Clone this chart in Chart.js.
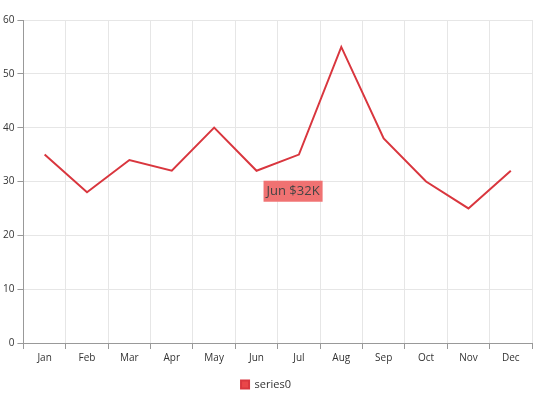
<!DOCTYPE html>
<html>
<head>
<script src="https://cdn.jsdelivr.net/npm/chart.js@4"></script>
<style>body{margin:0;background:#fff}#wrap{width:550px;height:400px}</style>
</head>
<body>
<div id="wrap"><canvas id="chart"></canvas></div>
<script>
var months = ['Jan', 'Feb', 'Mar', 'Apr', 'May', 'Jun', 'Jul', 'Aug', 'Sep', 'Oct', 'Nov', 'Dec'];
var series0 = [35, 28, 34, 32, 40, 32, 35, 55, 38, 30, 25, 32];
var yTicks = [0, 10, 20, 30, 40, 50, 60];
var tipIndex = 5;

// FAKE TOOLTIP BELOW THE JUN POINT
var tipPlugin = {
	id: 'tip',
	afterDatasetsDraw: function(chart) {
		var ctx = chart.ctx;
		var pt = chart.getDatasetMeta(0).data[tipIndex];
		var text = months[tipIndex] + ' $' + series0[tipIndex] + 'K';
		ctx.save();
		ctx.font = '13px "Liberation Sans Narrow", "Open Sans", sans-serif';
		var w = ctx.measureText(text).width + 6;
		var x = pt.x + 7, y = pt.y + 10;
		ctx.fillStyle = '#f07272';
		ctx.fillRect(x, y, w, 21);
		ctx.fillStyle = '#444';
		ctx.textBaseline = 'middle';
		ctx.fillText(text, x + 3, y + 11);
		ctx.restore();
	}
};

new Chart(document.getElementById('chart'), {
	type: 'line',
	data: {
		labels: months,
		datasets: [{
			label: 'series0',
			data: series0,
			borderColor: '#d9363e',
			backgroundColor: '#e94649',
			borderWidth: 2,
			pointRadius: 0,
			tension: 0
		}]
	},
	options: {
		responsive: true,
		maintainAspectRatio: false,
		animation: false,
		layout: { padding: { left: 0, right: 18, top: 20, bottom: 0 } },
		plugins: {
			tooltip: { enabled: false },
			legend: {
				position: 'bottom',
				labels: { boxWidth: 8, boxHeight: 8, color: '#333', font: { family: 'Open Sans', size: 11 }, padding: 12 }
			}
		},
		scales: {
			x: {
				offset: true,
				grid: { offset: true, color: '#e6e6e6', tickLength: 6, tickColor: '#999' },
				border: { color: '#999' },
				ticks: { color: '#333', font: { family: 'Open Sans', size: 10 } }
			},
			y: {
				min: 0, max: 60,
				afterBuildTicks: function(axis) { axis.ticks = yTicks.map(function(v) { return { value: v }; }); },
				grid: { color: '#e6e6e6', tickLength: 6, tickColor: '#999' },
				border: { color: '#999' },
				ticks: { color: '#333', font: { family: 'Open Sans', size: 10 } }
			}
		}
	},
	plugins: [tipPlugin]
});
</script>
</body>
</html>
